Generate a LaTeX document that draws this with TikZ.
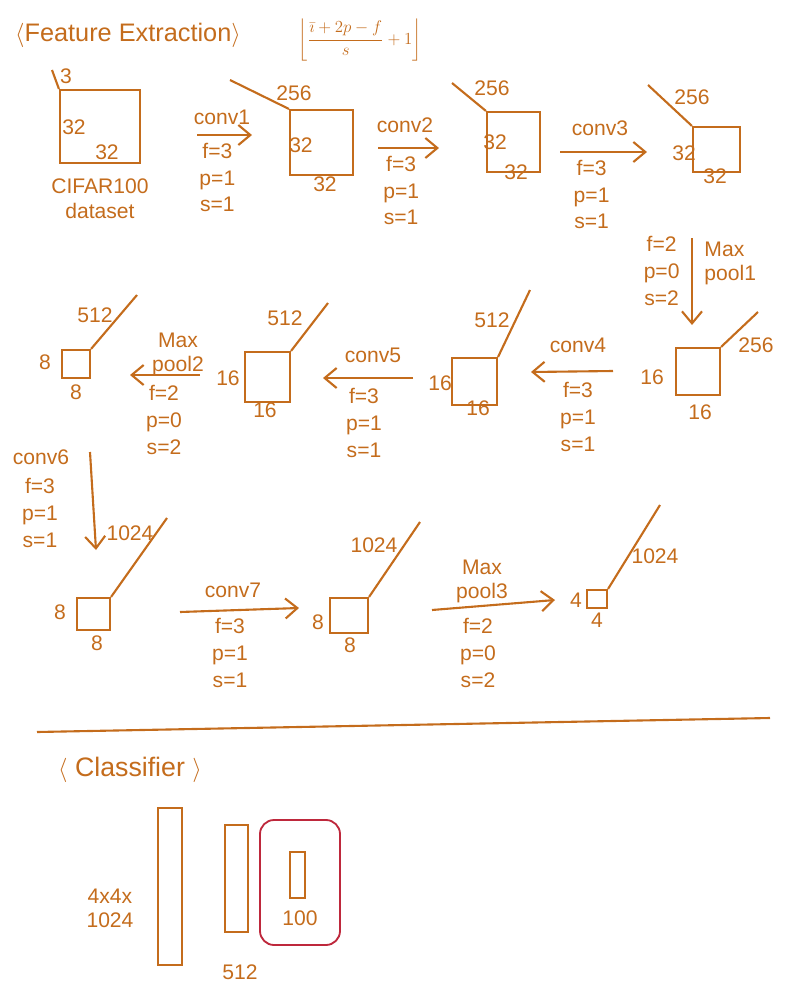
\documentclass[tikz,border=0pt]{standalone}
\usepackage{fontspec}
\setmainfont{Liberation Sans}
\usetikzlibrary{positioning,arrows.meta,fit}
\definecolor{pen}{RGB}{196,108,28}
\definecolor{redpen}{RGB}{190,40,60}

\begin{document}
\begin{tikzpicture}[x=0.025cm,y=-0.025cm,line width=1.5pt,color=pen,
    fmap/.style={draw,inner sep=0pt},
    lbl/.style={text=pen,font=\fontsize{15}{17}\selectfont,inner sep=1pt},
    hyper/.style={lbl,align=center,font=\fontsize{15}{19}\selectfont},
    layer/.style={-{Straight Barb[length=3mm,width=5mm]}}]
    \useasboundingbox (0,0) rectangle (791,1008);

    % titles
    \node [lbl,font=\fontsize{18}{22}\selectfont] (title) at (128,35) {$\langle$Feature Extraction$\rangle$};
    \node [lbl,font=\fontsize{13}{16}\selectfont] (formula) at (360,40) {$\displaystyle\left\lfloor \frac{\bar{\imath}+2p-f}{s}+1 \right\rfloor$};

    % feature maps, row 1
    \node [fmap,fit={(60,90) (140,163)}] (in) {};
    \node [fmap,fit={(290,110) (353,175)}] (c1) {};
    \node [fmap,fit={(487,112) (540,172)}] (c2) {};
    \node [fmap,fit={(693,127) (740,172)}] (c3) {};
    \coordinate (in-d) at (52,70);
    \coordinate (c1-d) at (230,80);
    \coordinate (c2-d) at (452,83);
    \coordinate (c3-d) at (648,85);
    \draw (in.north west) -- (in-d);
    \draw (c1.north west) -- (c1-d);
    \draw (c2.north west) -- (c2-d);
    \draw (c3.north west) -- (c3-d);
    \node [lbl] at (66,76) {3};
    \node [lbl] at (74,127) {32};
    \node [lbl] at (107,152) {32};
    \node [lbl] at (100,186) {CIFAR100};
    \node [lbl] at (100,211) {dataset};
    \node [lbl] at (294,93) {256};
    \node [lbl] at (301,145) {32};
    \node [lbl] at (325,184) {32};
    \node [lbl] at (492,88) {256};
    \node [lbl] at (495,142) {32};
    \node [lbl] at (516,172) {32};
    \node [lbl] at (692,97) {256};
    \node [lbl] at (684,153) {32};
    \node [lbl] at (715,176) {32};

    % conv1 - conv3
    \coordinate (a1s) at (197,135);  \coordinate (a1e) at (252,135);
    \coordinate (a2s) at (378,148);  \coordinate (a2e) at (439,148);
    \coordinate (a3s) at (560,152);  \coordinate (a3e) at (647,152);
    \draw [layer] (a1s) -- (a1e);
    \draw [layer] (a2s) -- (a2e);
    \draw [layer] (a3s) -- (a3e);
    \node [lbl] at (222,117) {conv1};
    \node [hyper,below=4pt of a1s,anchor=north west] {f=3\\p=1\\s=1};
    \node [lbl] at (405,125) {conv2};
    \node [hyper,below=4pt of a2s,anchor=north west,xshift=2pt] {f=3\\p=1\\s=1};
    \node [lbl] at (600,128) {conv3};
    \node [hyper,below=4pt of a3s,anchor=north west,xshift=8pt] {f=3\\p=1\\s=1};

    % max pool 1
    \coordinate (p1s) at (692,238);  \coordinate (p1e) at (692,325);
    \draw [layer] (p1s) -- (p1e);
    \node [lbl,align=left,anchor=north west] at (702,240) {Max\\pool1};
    \node [hyper,anchor=north east] at (682,234) {f=2\\p=0\\s=2};

    % feature maps, row 2
    \node [fmap,fit={(676,348) (720,395)}] (p1) {};
    \node [fmap,fit={(452,358) (497,405)}] (c4) {};
    \node [fmap,fit={(245,352) (290,402)}] (c5) {};
    \node [fmap,fit={(62,350) (90,378)}] (p2) {};
    \coordinate (p1-d) at (758,312);
    \coordinate (c4-d) at (530,290);
    \coordinate (c5-d) at (328,303);
    \coordinate (p2-d) at (137,295);
    \draw (p1.north east) -- (p1-d);
    \draw (c4.north east) -- (c4-d);
    \draw (c5.north east) -- (c5-d);
    \draw (p2.north east) -- (p2-d);
    \node [lbl] at (756,345) {256};
    \node [lbl] at (652,377) {16};
    \node [lbl] at (700,412) {16};
    \node [lbl] at (492,320) {512};
    \node [lbl] at (440,383) {16};
    \node [lbl] at (478,408) {16};
    \node [lbl] at (285,318) {512};
    \node [lbl] at (228,378) {16};
    \node [lbl] at (265,410) {16};
    \node [lbl] at (95,315) {512};
    \node [lbl] at (45,362) {8};
    \node [lbl] at (76,392) {8};

    % conv4, conv5, max pool 2
    \coordinate (a4s) at (613,371);  \coordinate (a4e) at (531,372);
    \coordinate (a5s) at (413,378);  \coordinate (a5e) at (323,378);
    \coordinate (p2s) at (200,375);  \coordinate (p2e) at (130,375);
    \draw [layer] (a4s) -- (a4e);
    \draw [layer] (a5s) -- (a5e);
    \draw [layer] (p2s) -- (p2e);
    \node [lbl] at (578,345) {conv4};
    \node [hyper,anchor=north] at (578,380) {f=3\\p=1\\s=1};
    \node [lbl] at (373,355) {conv5};
    \node [hyper,anchor=north] at (364,386) {f=3\\p=1\\s=1};
    \node [lbl,align=center] at (178,354) {Max\\pool2};
    \node [hyper,anchor=north] at (164,383) {f=2\\p=0\\s=2};

    % conv6
    \coordinate (a6s) at (90,452);  \coordinate (a6e) at (96,550);
    \draw [layer] (a6s) -- (a6e);
    \node [lbl] at (41,457) {conv6};
    \node [hyper,anchor=north] at (40,476) {f=3\\p=1\\s=1};

    % feature maps, row 3
    \node [fmap,fit={(77,598) (110,630)}] (c6) {};
    \node [fmap,fit={(330,598) (368,633)}] (c7) {};
    \node [fmap,fit={(587,590) (607,608)}] (p3) {};
    \coordinate (c6-d) at (167,518);
    \coordinate (c7-d) at (420,522);
    \coordinate (p3-d) at (660,505);
    \draw (c6.north east) -- (c6-d);
    \draw (c7.north east) -- (c7-d);
    \draw (p3.north east) -- (p3-d);
    \node [lbl] at (130,533) {1024};
    \node [lbl] at (60,612) {8};
    \node [lbl] at (97,643) {8};
    \node [lbl] at (374,545) {1024};
    \node [lbl] at (318,622) {8};
    \node [lbl] at (350,645) {8};
    \node [lbl] at (655,556) {1024};
    \node [lbl] at (576,600) {4};
    \node [lbl] at (597,620) {4};

    % conv7, max pool 3
    \coordinate (a7s) at (180,612);  \coordinate (a7e) at (299,608);
    \coordinate (p3s) at (432,610);  \coordinate (p3e) at (555,600);
    \draw [layer] (a7s) -- (a7e);
    \draw [layer] (p3s) -- (p3e);
    \node [lbl] at (233,590) {conv7};
    \node [hyper,anchor=north] at (230,616) {f=3\\p=1\\s=1};
    \node [lbl,align=center] at (482,581) {Max\\pool3};
    \node [hyper,anchor=north] at (478,616) {f=2\\p=0\\s=2};

    % classifier
    \coordinate (sep-l) at (37,732);
    \coordinate (sep-r) at (770,718);
    \draw (sep-l) -- (sep-r);
    \node [lbl,font=\fontsize{19}{22}\selectfont] (cls) at (130,770) {$\langle$ Classifier $\rangle$};
    \node [fmap,fit={(158,808) (182,965)}] (fc1) {};
    \node [fmap,fit={(225,825) (248,932)}] (fc2) {};
    \node [draw=redpen,line width=1.3pt,rounded corners=10pt,inner sep=0pt,fit={(260,820) (340,945)}] (out) {};
    \node [fmap,fit={(290,852) (305,898)}] (fc3) {};
    \node [lbl,align=center] at (110,908) {4x4x\\1024};
    \node [lbl] at (240,972) {512};
    \node [lbl] at (300,918) {100};
\end{tikzpicture}
\end{document}
